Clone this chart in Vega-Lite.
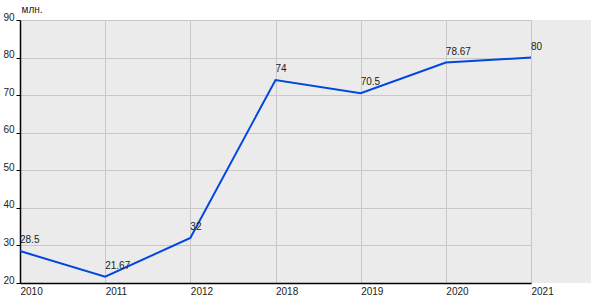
{
  "$schema": "https://vega.github.io/schema/vega-lite/v6.json",
  "autosize": "none",
  "width": 571,
  "height": 263,
  "padding": {"left": 20, "top": 20, "right": 9, "bottom": 17},
  "background": "white",
  "config": {
    "view": {"fill": "#EBEBEB", "stroke": null},
    "font": "Liberation Sans",
    "axis": {"labelFont": "Liberation Sans", "labelFontSize": 10, "labelColor": "#222", "gridColor": "#C8C8C8", "gridOpacity": 1, "domainColor": "#000", "tickColor": "#000", "titleFont": "Liberation Sans", "labelFlush": false}
  },
  "data": {"values": [
    {"year": "2010", "value": 28.5},
    {"year": "2011", "value": 21.67},
    {"year": "2012", "value": 32},
    {"year": "2018", "value": 74},
    {"year": "2019", "value": 70.5},
    {"year": "2020", "value": 78.67},
    {"year": "2021", "value": 80}
  ]},
  "encoding": {
    "x": {"field": "year", "type": "ordinal", "sort": null,
      "scale": {"type": "point", "range": [0, 511], "padding": 0},
      "axis": {"title": null, "labelAngle": 0, "labelAlign": "left", "labelPadding": 3, "ticks": false, "grid": true, "domainWidth": 1.5, "labelFontSize": 10, "labelFlush": false, "labelOverlap": false}},
    "y": {"field": "value", "type": "quantitative",
      "scale": {"domain": [20, 90], "nice": false, "zero": false},
      "axis": {"values": [20,30,40,50,60,70,80,90], "tickSize": 4, "labelPadding": 2, "labelOffset": -3, "grid": true, "domainWidth": 1.5, "labelFlush": false,
        "title": "млн.", "titleAngle": 0, "titleAlign": "left", "titleBaseline": "bottom", "titleX": 1, "titleY": -6, "titleFontSize": 10, "titleFontWeight": "normal", "titleColor": "#222"}}
  },
  "layer": [
    {"mark": {"type": "line", "color": "#0047E0", "strokeWidth": 2}},
    {"mark": {"type": "text", "align": "left", "baseline": "alphabetic", "dy": -8, "dx": 0, "fontSize": 10, "color": "#222"},
     "encoding": {"text": {"field": "value", "type": "quantitative"}}}
  ]
}
